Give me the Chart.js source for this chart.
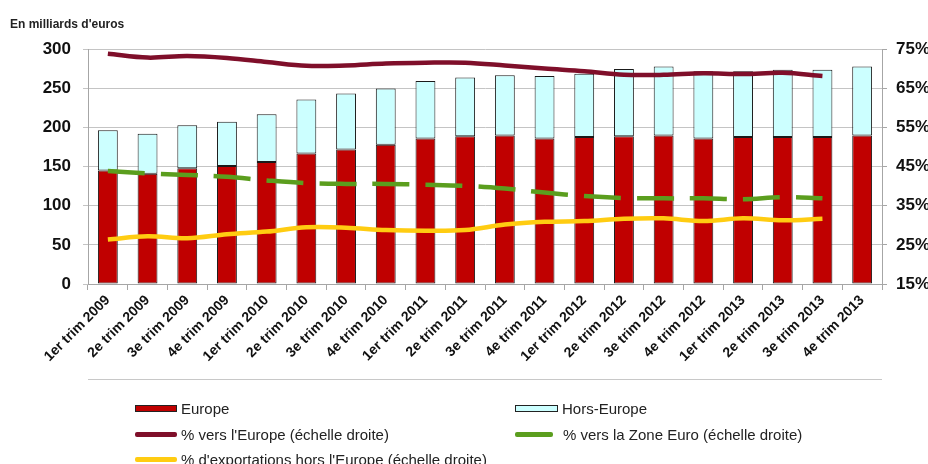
<!DOCTYPE html>
<html lang="fr">
<head>
<meta charset="utf-8">
<title>Exportations par destination</title>
<script src="https://cdn.jsdelivr.net/npm/chart.js@4.4.1/dist/chart.umd.min.js"></script>
<style>
    body { margin: 0; background: #fff; }
    #wrap { position: relative; width: 928px; height: 464px; }
    #legend {
        position: absolute; left: 135px; top: 396px;
        display: grid; grid-template-columns: 380px 300px; grid-auto-rows: 25.5px;
        font-family: "Liberation Sans", Arial, sans-serif; font-size: 15px; color: #222;
    }
    .item { display: flex; align-items: center; white-space: nowrap; }
    .sw { display: inline-block; width: 42px; margin-right: 4px; box-sizing: border-box; }
    .bar { height: 7px; border: 1px solid #222; }
    .line { height: 5px; border-radius: 2px; }
</style>
</head>
<body>
<div id="wrap">
    <canvas id="chart"></canvas>
    <div id="legend">
        <div class="item"><span class="sw bar" style="background:#C00000"></span>Europe</div>
        <div class="item"><span class="sw bar" style="background:#CCFFFF; width:43px"></span>Hors-Europe</div>
        <div class="item"><span class="sw line" style="background:#7F0F2A"></span>% vers l'Europe (échelle droite)</div>
        <div class="item"><span class="sw line" style="background:#5B9E1E; width:38px; margin-right:10px"></span>% vers la Zone Euro (échelle droite)</div>
        <div class="item"><span class="sw line" style="background:#FFCC11"></span>% d'exportations hors l'Europe (échelle droite)</div>
    </div>
</div>
<script>
// Trimestres
const quarters = [
    '1er trim 2009', '2e trim 2009', '3e trim 2009', '4e trim 2009',
    '1er trim 2010', '2e trim 2010', '3e trim 2010', '4e trim 2010',
    '1er trim 2011', '2e trim 2011', '3e trim 2011', '4e trim 2011',
    '1er trim 2012', '2e trim 2012', '3e trim 2012', '4e trim 2012',
    '1er trim 2013', '2e trim 2013', '3e trim 2013', '4e trim 2013'
];

// Exportations en milliards d'euros
const europe = [145, 141, 148, 151, 156, 167, 172, 178, 186, 189, 190, 186, 188, 189, 190, 186, 188, 188, 188, 190];
const horsEurope = [51.5, 51, 55, 56.5, 61, 69, 71.5, 72, 73.5, 75, 77, 80, 81, 86, 88, 86, 84, 86, 86, 88];

// Parts en % (echelle droite), pas de valeur pour le 4e trim 2013
const pctEurope = [73.9, 72.9, 73.3, 72.8, 71.8, 70.8, 70.9, 71.4, 71.6, 71.6, 70.9, 70.1, 69.4, 68.5, 68.5, 68.9, 68.7, 69.0, 68.2, null];
const pctZoneEuro = [43.9, 43.3, 42.9, 42.4, 41.5, 40.8, 40.6, 40.6, 40.4, 40.1, 39.4, 38.4, 37.5, 37.0, 36.9, 36.9, 36.7, 37.2, 36.9, null];
const pctHorsEurope = [26.4, 27.2, 26.7, 27.7, 28.4, 29.5, 29.4, 28.8, 28.6, 28.8, 30.2, 30.9, 31.1, 31.7, 31.8, 31.1, 31.8, 31.3, 31.7, null];

const leftTicks = { min: 0, max: 300, step: 50 };
const rightTicks = { min: 15, max: 75, step: 10 };

const font = 'Liberation Sans, Arial, sans-serif';

// thin grey rule under the axis labels, like the Excel frame
const frameLine = {
    id: 'frameLine',
    afterDraw(chart) {
        const ctx = chart.ctx;
        const a = chart.chartArea;
        ctx.save();
        ctx.strokeStyle = '#C8C8C8';
        ctx.lineWidth = 1;
        ctx.beginPath();
        ctx.moveTo(a.left, 379.5);
        ctx.lineTo(a.right, 379.5);
        ctx.stroke();
        ctx.restore();
    }
};

function lineSet(label, data, color, extra) {
    return Object.assign({
        type: 'line',
        label: label,
        data: data,
        yAxisID: 'y2',
        borderColor: color,
        backgroundColor: color,
        borderWidth: 4.5,
        tension: 0.35,
        pointRadius: 0,
        fill: false,
        order: 0
    }, extra || {});
}

new Chart(document.getElementById('chart'), {
    type: 'bar',
    data: {
        labels: quarters,
        datasets: [
            {
                label: 'Europe',
                data: europe,
                backgroundColor: '#C00000',
                borderColor: '#1A1A1A',
                borderWidth: 1,
                borderSkipped: false,
                barPercentage: 0.5,
                categoryPercentage: 1,
                order: 1
            },
            {
                label: 'Hors-Europe',
                data: horsEurope,
                backgroundColor: '#CCFFFF',
                borderColor: '#1A1A1A',
                borderWidth: 1,
                borderSkipped: false,
                barPercentage: 0.5,
                categoryPercentage: 1,
                order: 1
            },
            lineSet("% vers l'Europe (échelle droite)", pctEurope, '#7F0F2A'),
            lineSet('% vers la Zone Euro (échelle droite)', pctZoneEuro, '#5B9E1E', { borderDash: [37, 16] }),
            lineSet("% d'exportations hors l'Europe (échelle droite)", pctHorsEurope, '#FFCC11')
        ]
    },
    options: {
        responsive: true,
        maintainAspectRatio: false,
        animation: false,
        layout: { padding: { left: 10, right: 0, top: 17, bottom: 0 } },
        plugins: {
            legend: { display: false },
            tooltip: { enabled: false },
            title: {
                display: true,
                text: "En milliards d'euros",
                align: 'start',
                color: '#222',
                font: { family: font, size: 12, weight: 'bold' },
                padding: { top: 0, bottom: 18 }
            }
        },
        scales: {
            x: {
                stacked: true,
                grid: { drawOnChartArea: false, tickLength: 6, color: '#A6A6A6' },
                border: { color: '#A6A6A6' },
                ticks: {
                    minRotation: 45, maxRotation: 45, padding: 2,
                    color: '#111',
                    font: { family: font, size: 14, weight: 'bold' }
                },
                afterFit(scale) { scale.height = 180; }
            },
            y: {
                stacked: true,
                position: 'left',
                min: leftTicks.min, max: leftTicks.max,
                grid: { color: '#C4C4C4', tickLength: 5 },
                border: { color: '#A6A6A6' },
                ticks: {
                    stepSize: leftTicks.step, padding: 12,
                    color: '#111',
                    font: { family: font, size: 17, weight: 'bold' }
                },
                afterFit(scale) { scale.width = 78; }
            },
            y2: {
                position: 'right',
                min: rightTicks.min, max: rightTicks.max,
                grid: { drawOnChartArea: false, color: '#A6A6A6', tickLength: 5 },
                border: { color: '#A6A6A6' },
                ticks: {
                    stepSize: rightTicks.step, padding: 9,
                    color: '#111',
                    font: { family: font, size: 17, weight: 'bold' },
                    callback: v => v + '%'
                },
                afterFit(scale) { scale.width = 46; }
            }
        }
    },
    plugins: [frameLine]
});
</script>
</body>
</html>
